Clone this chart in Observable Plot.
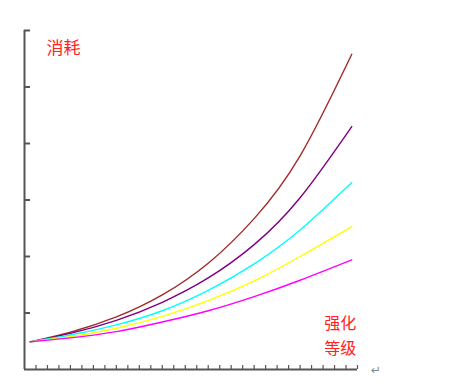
<!DOCTYPE html>
<html>
<head>
<meta charset="utf-8">
<script src="https://cdn.jsdelivr.net/npm/d3@7"></script>
<script src="https://cdn.jsdelivr.net/npm/@observablehq/plot@0.6"></script>
<style>
  html, body { margin: 0; padding: 0; background: #fff; }
  #chart svg { display: block; }
</style>
</head>
<body>
<div id="chart"></div>
<script>
// 强化等级 (x) sample positions
const levels = [0.5, 4, 8, 12, 16, 20, 24, 28.5];
// 消耗 (y) per series
const seriesBrown   = [0.49, 0.66, 0.93, 1.32, 1.88, 2.67, 3.78, 5.58];
const seriesPurple  = [0.49, 0.64, 0.87, 1.19, 1.62, 2.21, 3.04, 4.30];
const seriesCyan    = [0.49, 0.61, 0.79, 1.04, 1.40, 1.87, 2.47, 3.31];
const seriesYellow  = [0.49, 0.58, 0.73, 0.94, 1.22, 1.57, 2.00, 2.53];
const seriesMagenta = [0.49, 0.56, 0.67, 0.84, 1.04, 1.29, 1.58, 1.94];
const seriesNames = ["brown", "purple", "cyan", "yellow", "magenta"];
const seriesColors = ["#a83232", "#a444c4", "#33ffff", "#ffff33", "#ff33ff"];
const xTicks = d3.range(1, 30);
const yTicks = [1, 2, 3, 4, 5, 6];
const yLabel = "消耗";
const xLabelTop = "强化";
const xLabelBottom = "等级";

const allSeries = [seriesBrown, seriesPurple, seriesCyan, seriesYellow, seriesMagenta];
const rows = [];
allSeries.forEach((vals, i) => {
  vals.forEach((v, j) => rows.push({series: seriesNames[i], x: levels[j], y: v}));
});

const axisColor = "#555555";

const chart = Plot.plot({
  width: 450,
  height: 385,
  marginLeft: 24,
  marginRight: 93,
  marginTop: 30,
  marginBottom: 16,
  style: {background: "#fff", overflow: "visible"},
  x: {domain: [0, 29], axis: null},
  y: {domain: [0, 6], axis: null},
  color: {domain: seriesNames, range: seriesColors},
  marks: [
    Plot.axisX(xTicks, {label: null, tickSize: -4, tickFormat: () => "", stroke: axisColor, strokeWidth: 1.2}),
    Plot.axisY(yTicks, {label: null, anchor: "left", tickSize: -6, tickFormat: () => "", stroke: axisColor, strokeWidth: 2}),
    Plot.ruleY([0], {stroke: axisColor, strokeWidth: 2}),
    Plot.ruleX([0], {stroke: axisColor, strokeWidth: 2}),
    Plot.line(rows, {x: "x", y: "y", z: "series", stroke: "series", strokeWidth: 1.4, curve: "natural"}),
    Plot.text([yLabel], {x: 3.4, y: 5.68, text: d => d, fill: "#ff2020", fontSize: 17, fontFamily: "Noto Sans CJK SC"}),
    Plot.text([xLabelTop], {x: 27.5, y: 0.80, text: d => d, fill: "#ff2020", fontSize: 16, fontFamily: "Noto Sans CJK SC"}),
    Plot.text([xLabelBottom], {x: 27.5, y: 0.37, text: d => d, fill: "#ff2020", fontSize: 16, fontFamily: "Noto Sans CJK SC"}),
    Plot.text(["↵"], {x: 30.6, y: -0.02, text: d => d, fill: "#888", fontSize: 12, fontFamily: "DejaVu Sans"})
  ]
});
document.getElementById("chart").appendChild(chart);
</script>
</body>
</html>
